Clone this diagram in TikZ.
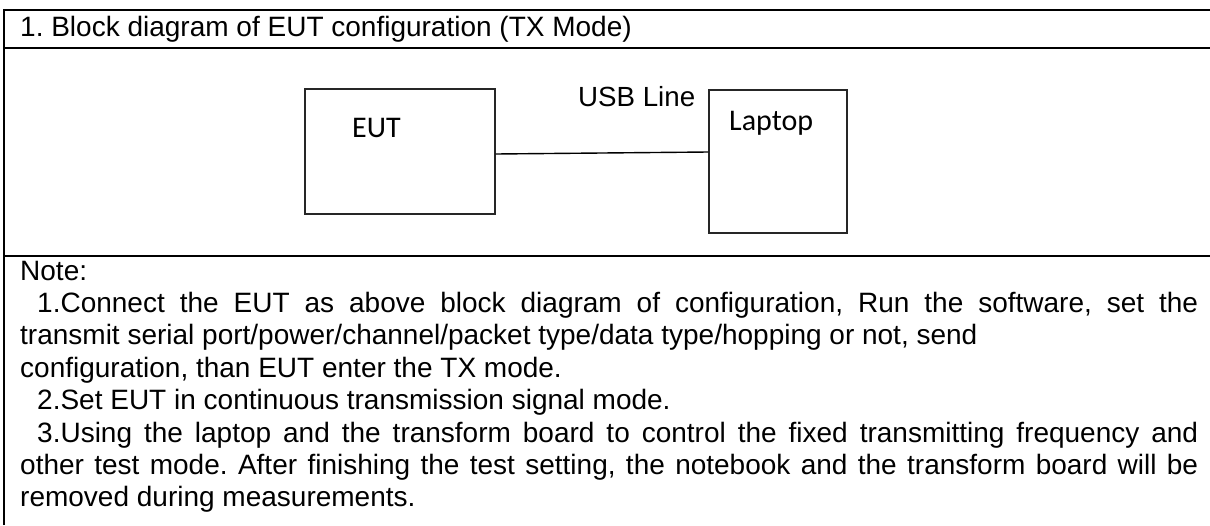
\documentclass[tikz,border=0pt]{standalone}
\usepackage{fontspec}
\setmainfont{Liberation Sans}
\newfontfamily\calibri{Carlito}
\begin{document}
\frenchspacing
\begin{tikzpicture}[x=1pt,y=-1pt,
  frame/.style={line width=2pt,black},
  blk/.style={draw=black!85,line width=1.4pt,inner sep=0pt},
  txt/.style={anchor=base west,inner sep=0pt,font=\fontsize{28}{32}\selectfont},
  lbl/.style={anchor=base west,inner sep=0pt,font=\calibri\fontsize{30}{32}\selectfont},
  wire/.style={line width=1.4pt,black}]
\useasboundingbox (0,0) rectangle (1210,525);
% frame
\draw[frame] (4,525) -- (4,10) -- (1212,10);
\draw[frame] (4,48) -- (1212,48);
\draw[frame] (4,256) -- (1212,256);
% title
\node[txt] (title) at (20,36.7) {1. Block diagram of EUT configuration (TX Mode)};
% blocks
\node[blk,minimum width=190pt,minimum height=125pt] (eut) at (400,151.5) {};
\node[blk,minimum width=138pt,minimum height=143pt] (laptop) at (778,161.5) {};
\node[lbl] (eutl) at (352,137) {EUT};
\node[lbl] (lapl) at (729,130) {Laptop};
\node[txt,font=\fontsize{27.7}{32}\selectfont] (usb) at (578,106) {USB Line};
\draw[wire] ([yshift=-2.5pt]eut.east) -- ([yshift=9.5pt]laptop.west);
% notes
\node[txt] (note) at (20,280) {Note:};
\node[txt] (n1a) at (37,312.4) {\makebox[1161pt][s]{1.Connect the EUT as above block diagram of configuration, Run the software, set the}};
\node[txt] (n1b) at (20,344.8) {transmit serial port/power/channel/packet type/data type/hopping or not, send};
\node[txt] (n1c) at (20,377.2) {configuration, than EUT enter the TX mode.};
\node[txt] (n2) at (37,409.6) {2.Set EUT in continuous transmission signal mode.};
\node[txt] (n3a) at (37,442) {\makebox[1161pt][s]{3.Using the laptop and the transform board to control the fixed transmitting frequency and}};
\node[txt] (n3b) at (20,474.4) {\makebox[1178pt][s]{other test mode. After finishing the test setting, the notebook and the transform board will be}};
\node[txt] (n3c) at (20,506.8) {removed during measurements.};
\end{tikzpicture}
\end{document}
